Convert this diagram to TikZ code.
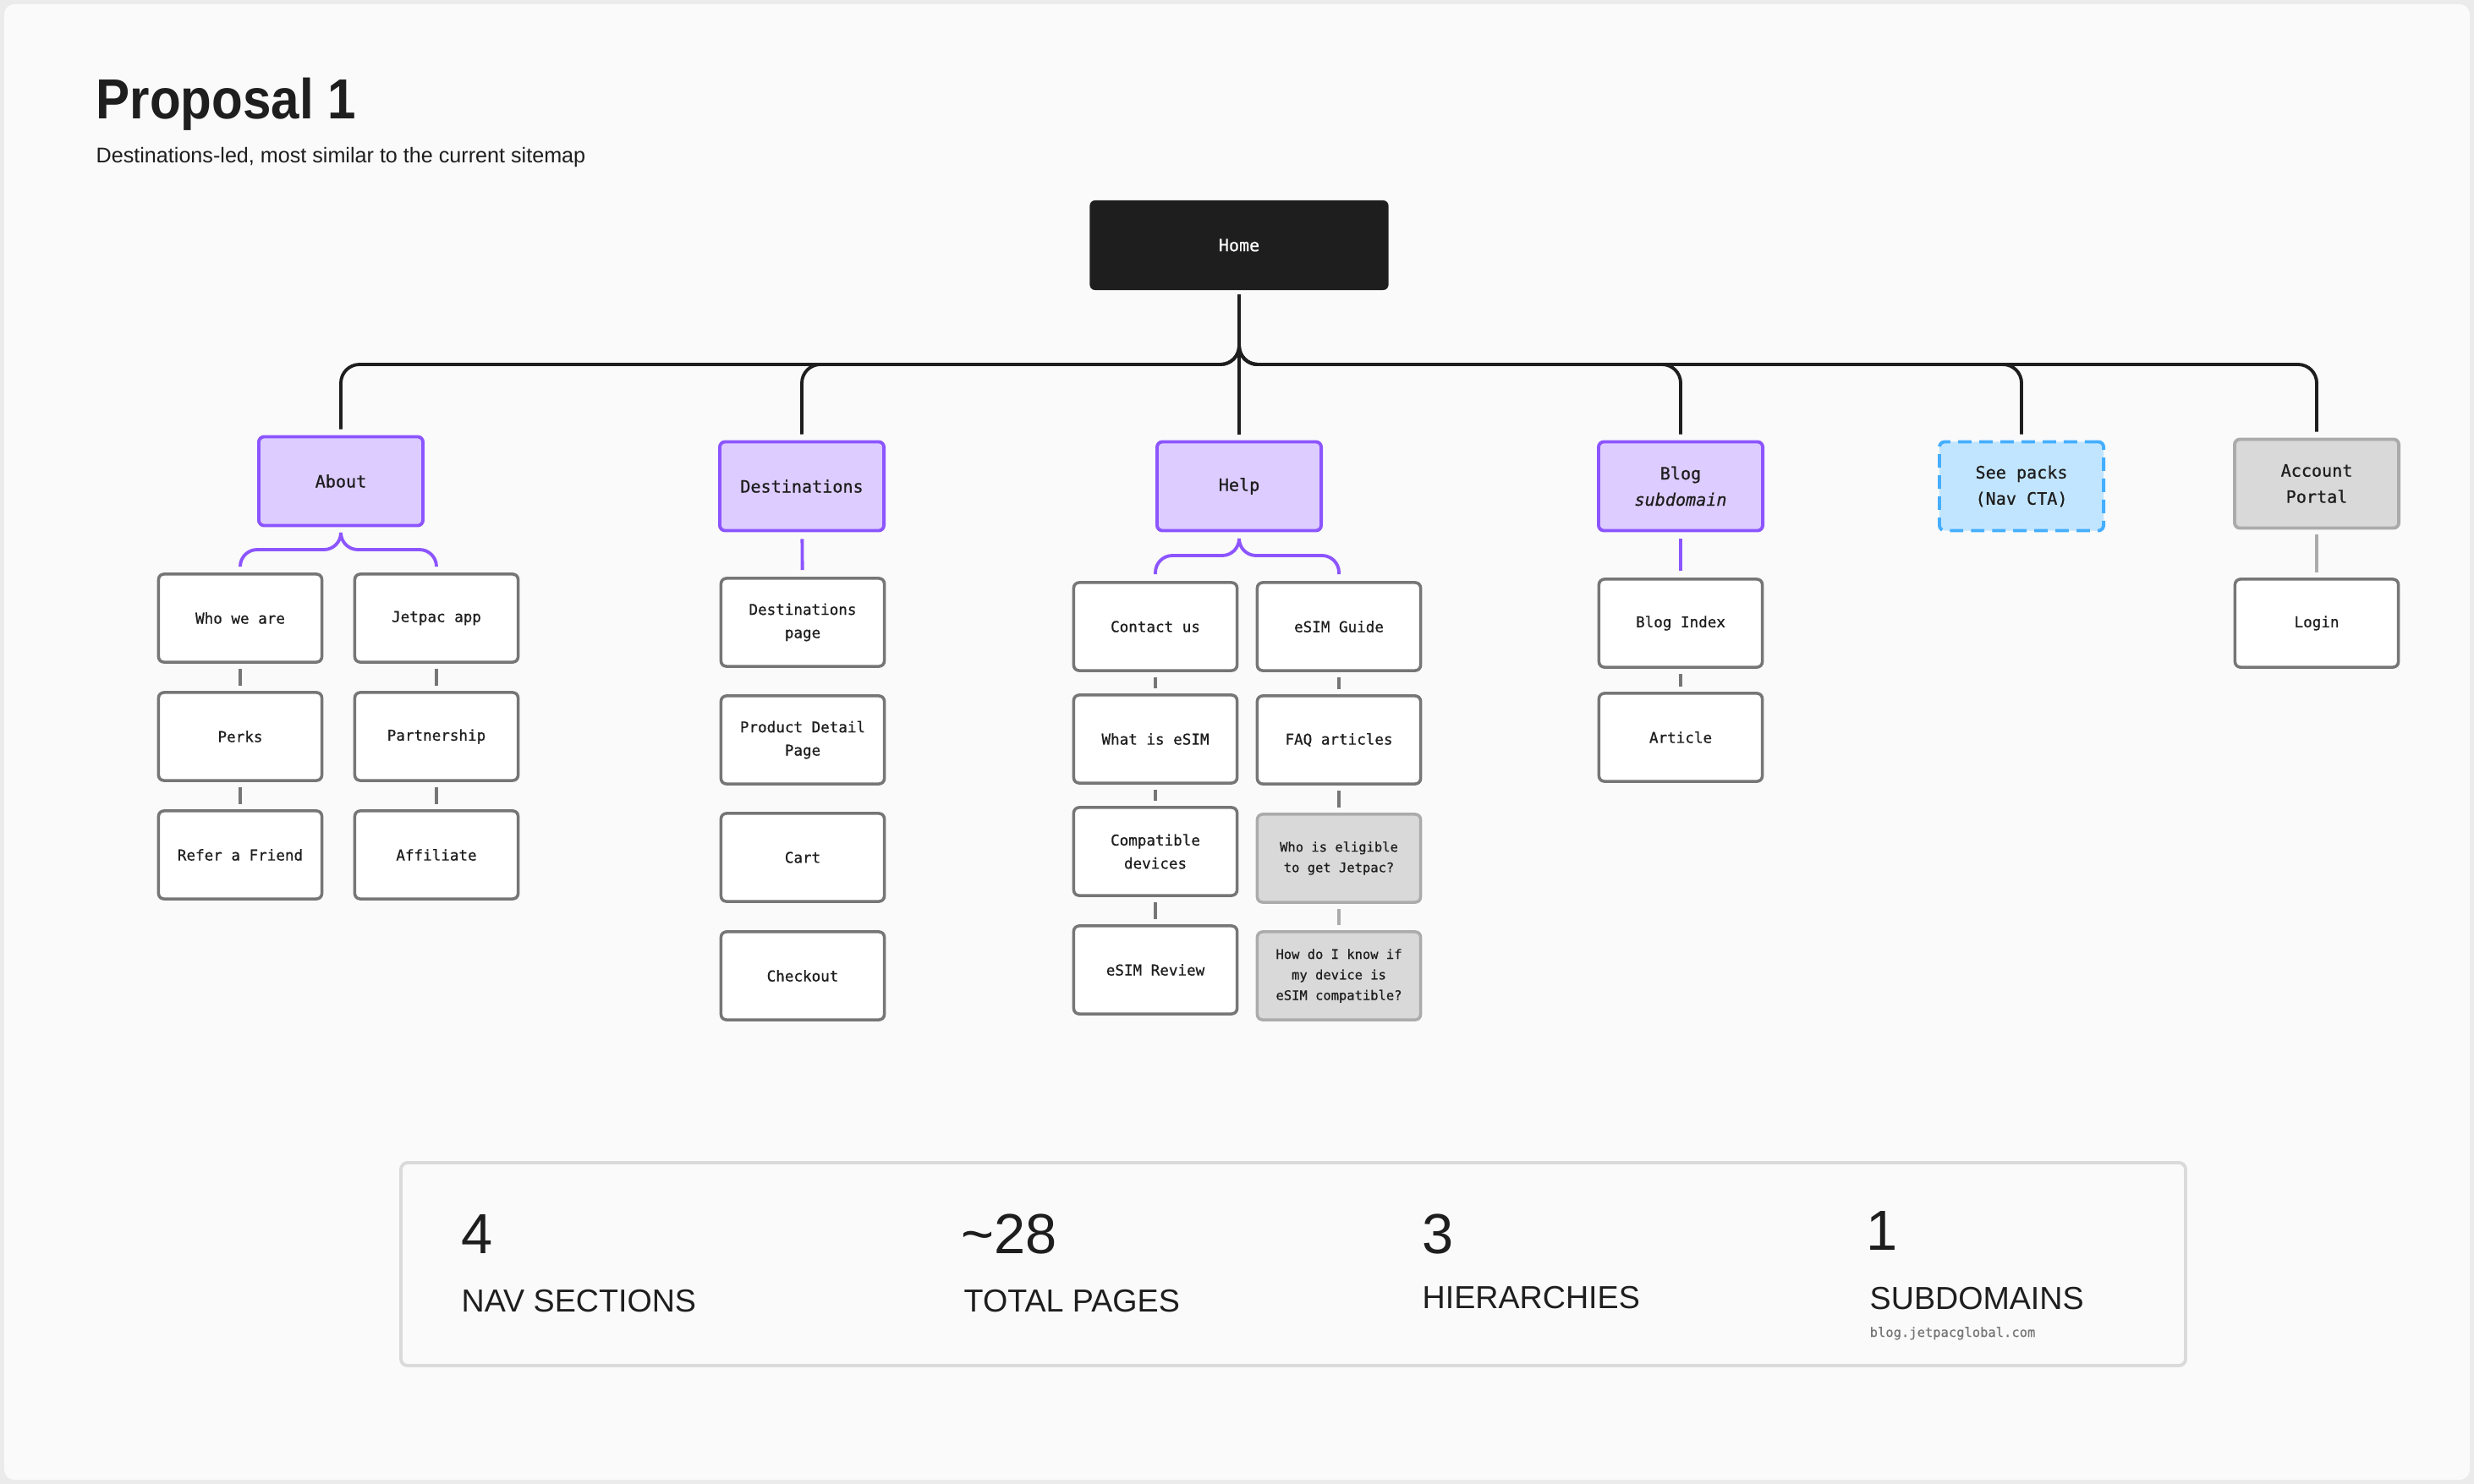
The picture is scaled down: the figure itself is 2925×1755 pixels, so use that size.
\documentclass[tikz,border=0pt]{standalone}
\usepackage{fontspec}
\setmainfont{Liberation Sans}
\newfontfamily\codefont[FakeBold=0.7]{DejaVu Sans Mono}
\newfontfamily\headfont[FakeStretch=0.9]{Liberation Sans}
\definecolor{ink}{HTML}{1E1E1E}
\definecolor{framegray}{HTML}{EBEBEB}
\definecolor{panel}{HTML}{FAFAFA}
\definecolor{navpurple}{HTML}{8C55FF}
\definecolor{navlilac}{HTML}{DDCCFF}
\definecolor{ctablue}{HTML}{45AEFF}
\definecolor{ctafill}{HTML}{C2E5FF}
\definecolor{portalgray}{HTML}{ABABAB}
\definecolor{portalfill}{HTML}{D9D9D9}
\definecolor{pagegray}{HTML}{767676}
\definecolor{statgray}{HTML}{DADADA}
\tikzset{
  homebox/.style={fill=ink,rounded corners=1.8pt,minimum width=3.53cm,minimum height=1.06cm,
    inner sep=0pt,text=white,font=\codefont\fontsize{5.7}{8.8}\selectfont},
  navbox/.style={draw=navpurple,fill=navlilac,line width=1.1pt,rounded corners=1.8pt,
    minimum width=1.94cm,minimum height=1.05cm,inner sep=0pt,align=center,text=ink,
    font=\codefont\fontsize{5.72}{8.8}\selectfont},
  ctabox/.style={navbox,draw=ctablue,fill=ctafill,dash pattern=on 4.5pt off 2.6pt},
  portalbox/.style={navbox,draw=portalgray,fill=portalfill},
  sitepage/.style={draw=pagegray,fill=white,line width=1pt,rounded corners=1.8pt,
    minimum width=1.93cm,minimum height=1.04cm,inner sep=0pt,align=center,text=ink,
    font=\codefont\fontsize{5.0}{7.8}\selectfont},
  faqpage/.style={sitepage,draw=portalgray,fill=portalfill,font=\codefont\fontsize{4.4}{6.9}\selectfont},
  trunk/.style={draw=ink,line width=1.1pt,rounded corners=0.22cm,shorten <=0.05cm,shorten >=0.07cm},
  fork/.style={draw=navpurple,line width=1.1pt,rounded corners=0.2cm,shorten <=0.08cm,shorten >=0.08cm},
  sitelink/.style={draw=pagegray,line width=1.1pt,shorten <=0.06cm,shorten >=0.06cm},
  softlink/.style={sitelink,draw=portalgray},
  statnum/.style={anchor=base west,text=ink,inner sep=0pt,font=\fontsize{19}{23}\selectfont},
  statlabel/.style={anchor=base west,text=ink,inner sep=0pt,font=\fontsize{10.7}{13}\selectfont}
}
\begin{document}
\begin{tikzpicture}[x=0.01cm,y=-0.01cm]
\fill[framegray] (0,0) rectangle (2925,1755);
\fill[panel,rounded corners=0.12cm] (5,5) rectangle (2920,1750);
\useasboundingbox (0,0) rectangle (2925,1755);

\node[anchor=base west,inner sep=0pt,text=ink,font=\headfont\bfseries\fontsize{19}{23}\selectfont] (title) at (113,141) {Proposal 1};
\node[anchor=base west,inner sep=0pt,text=ink,font=\fontsize{7.15}{9}\selectfont] (subtitle) at (113,193) {Destinations-led, most similar to the current sitemap};

\node[homebox] (home) at (1465,290) {Home};
\node[navbox] (about) at (403,569) {About};
\node[navbox] (dest) at (948,575) {Destinations};
\node[navbox] (help) at (1465,575) {Help};
\node[navbox] (blog) at (1987,575) {Blog\\\textit{subdomain}};
\node[ctabox] (packs) at (2390,575) {See packs\\(Nav CTA)};
\node[portalbox] (account) at (2739,572) {Account\\Portal};

\coordinate (bus) at (1465,431);
\draw[trunk] (home) -- (bus) -| (about);
\draw[trunk] (home) -- (bus) -| (dest);
\draw[trunk] (home) -- (help);
\draw[trunk] (home) -- (bus) -| (blog);
\draw[trunk] (home) -- (bus) -| (packs);
\draw[trunk] (home) -- (bus) -| (account);

\node[sitepage] (who) at (284,731) {Who we are};
\node[sitepage] (perks) at (284,871) {Perks};
\node[sitepage] (refer) at (284,1011) {Refer a Friend};
\node[sitepage] (app) at (516,731) {Jetpac app};
\node[sitepage] (partner) at (516,871) {Partnership};
\node[sitepage] (affiliate) at (516,1011) {Affiliate};
\coordinate (aboutfork) at (403,650);
\draw[fork] (about) -- (aboutfork) -| (who);
\draw[fork] (about) -- (aboutfork) -| (app);
\draw[sitelink] (who) -- (perks);
\draw[sitelink] (perks) -- (refer);
\draw[sitelink] (app) -- (partner);
\draw[sitelink] (partner) -- (affiliate);

\node[sitepage] (destpage) at (949,736) {Destinations\\page};
\node[sitepage] (pdp) at (949,875) {Product Detail\\Page};
\node[sitepage] (cart) at (949,1014) {Cart};
\node[sitepage] (checkout) at (949,1154) {Checkout};
\draw[fork] (dest) -- (destpage);

\node[sitepage] (contact) at (1366,741) {Contact us};
\node[sitepage] (whatis) at (1366,874) {What is eSIM};
\node[sitepage] (devices) at (1366,1007) {Compatible\\devices};
\node[sitepage] (review) at (1366,1147) {eSIM Review};
\node[sitepage] (guide) at (1583,741) {eSIM Guide};
\node[sitepage] (faq) at (1583,875) {FAQ articles};
\node[faqpage] (eligible) at (1583,1015) {Who is eligible\\to get Jetpac?};
\node[faqpage] (compatq) at (1583,1154) {How do I know if\\my device is\\eSIM compatible?};
\coordinate (helpfork) at (1465,657);
\draw[fork] (help) -- (helpfork) -| (contact);
\draw[fork] (help) -- (helpfork) -| (guide);
\draw[sitelink] (contact) -- (whatis);
\draw[sitelink] (whatis) -- (devices);
\draw[sitelink] (devices) -- (review);
\draw[sitelink] (guide) -- (faq);
\draw[sitelink] (faq) -- (eligible);
\draw[softlink] (eligible) -- (compatq);

\node[sitepage] (blogindex) at (1987,737) {Blog Index};
\node[sitepage] (article) at (1987,872) {Article};
\draw[fork] (blog) -- (blogindex);
\draw[sitelink] (blogindex) -- (article);

\node[sitepage] (login) at (2739,737) {Login};
\draw[softlink] (account) -- (login);

\draw[draw=statgray,fill=panel,line width=1.1pt,rounded corners=0.08cm] (474,1375) rectangle (2584,1615);
\node[statnum] (navnum) at (545,1482) {4};
\node[statlabel] (navlabel) at (545,1551) {NAV SECTIONS};
\node[statnum] (pagenum) at (1136,1482) {\textasciitilde 28};
\node[statlabel] (pagelabel) at (1139,1551) {TOTAL PAGES};
\node[statnum] (hiernum) at (1681,1482) {3};
\node[statlabel] (hierlabel) at (1681,1547) {HIERARCHIES};
\node[statnum] (subnum) at (2206,1478) {1};
\node[statlabel] (sublabel) at (2210,1548) {SUBDOMAINS};
\node[anchor=base west,inner sep=0pt,text=pagegray,font=\codefont\fontsize{4.4}{6}\selectfont] (suburl) at (2210,1581) {blog.jetpacglobal.com};
\end{tikzpicture}
\end{document}
